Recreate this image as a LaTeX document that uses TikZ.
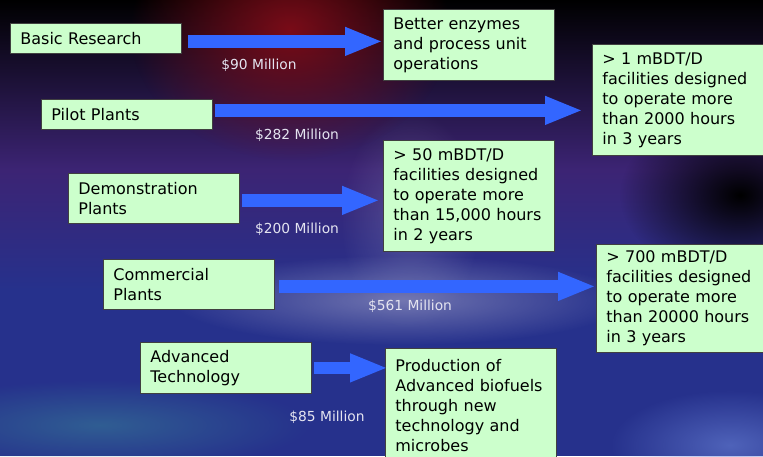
\documentclass[tikz,border=0pt]{standalone}
\usepackage{fontspec}
\setmainfont{DejaVu Sans}
\usetikzlibrary{arrows.meta,fadings}

\definecolor{boxgreen}{HTML}{CCFFCC}
\definecolor{flowblue}{HTML}{3366FF}
\definecolor{costgrey}{HTML}{E4E4F0}
\definecolor{bgpurple}{HTML}{3C2474}
\definecolor{bgblue}{HTML}{26318C}
\definecolor{bgmaroon}{HTML}{7A0C18}
\definecolor{bglilac}{HTML}{A0A0C8}
\definecolor{bgteal}{HTML}{3A8A9A}
\definecolor{bgsky}{HTML}{6A84D8}

\tikzfading[name=glow, inner color=transparent!0, outer color=transparent!100]

\tikzset{
  box/.style={draw=black!75, fill=boxgreen, line width=0.8pt, anchor=north west,
    inner xsep=10pt, inner ysep=3pt, align=left, text width=151pt,
    font=\fontsize{16pt}{20pt}\selectfont},
  flow/.style={draw=flowblue, line width=13pt, -{Triangle[width=26pt,length=38pt]}},
  cost/.style={text=costgrey, font=\fontsize{13.8pt}{16pt}\selectfont}
}

\begin{document}
\begin{tikzpicture}[x=1pt,y=-1pt]
\useasboundingbox (0,0) rectangle (763,456);
\clip (0,0) rectangle (763,456);
% background
\fill[bgblue] (0,0) rectangle (763,456);
\shade[top color=black, bottom color=bgpurple] (0,0) rectangle (763,170);
\shade[top color=bgpurple, bottom color=bgblue] (0,170) rectangle (763,290);
\fill[bgmaroon, path fading=glow] (290,30) ellipse (160 and 130);
\fill[black, path fading=glow] (740,195) ellipse (120 and 85);
\fill[bglilac, opacity=0.3, path fading=glow] (410,220) ellipse (70 and 110);
\fill[bglilac, opacity=0.6, path fading=glow] (400,300) ellipse (230 and 45);
\fill[bgteal, opacity=0.5, path fading=glow] (100,425) ellipse (210 and 45);
\fill[bgsky, opacity=0.6, path fading=glow] (730,445) ellipse (120 and 55);

% boxes
\node[box, minimum height=30pt] (basic) at (10,23) {Basic Research};
\node[box, minimum height=71pt] (better) at (383,9) {Better enzymes\\and process unit\\operations};
\node[box, minimum height=30pt] (pilot) at (41,99) {Pilot Plants};
\node[box, minimum height=111pt] (onemb) at (592,44) {> 1 mBDT/D\\facilities designed\\to operate more\\than 2000 hours\\in 3 years};
\node[box, minimum height=50pt] (demo) at (68,173) {Demonstration\\Plants};
\node[box, minimum height=111pt] (fifty) at (383,140) {> 50 mBDT/D\\facilities designed\\to operate more\\than 15,000 hours\\in 2 years};
\node[box, minimum height=50pt] (commercial) at (103,259) {Commercial\\Plants};
\node[box, minimum height=108pt, text width=147pt] (seven) at (596,244) {> 700 mBDT/D\\facilities designed\\to operate more\\than 20000 hours\\in 3 years};
\node[box, minimum height=51pt] (advanced) at (140,342) {Advanced\\Technology};
\node[box, minimum height=140pt] (biofuels) at (385,348) {Production of\\Advanced biofuels\\through new\\technology and\\microbes\rule[-26pt]{0pt}{1pt}};

% arrows
\coordinate (a1) at ([xshift=6pt,yshift=-3pt]basic.east);
\draw[flow] (a1) -- (a1 -| better.west);
\coordinate (a2) at ([xshift=2pt,yshift=4pt]pilot.east);
\draw[flow, shorten >=9pt] (a2) -- (a2 -| onemb.west);
\coordinate (a3) at ([xshift=2pt,yshift=-2pt]demo.east);
\draw[flow, shorten >=3pt] (a3) -- (a3 -| fifty.west);
\coordinate (a4) at ([xshift=4pt,yshift=-2pt]commercial.east);
\draw[flow] (a4) -- (a4 -| seven.west);
\coordinate (a5) at ([xshift=2pt]advanced.east);
\draw[flow, line width=12pt, shorten >=-3pt] (a5) -- (a5 -| biofuels.west);

% costs
\node[cost] (c90) at (259,65) {\$90 Million};
\node[cost] (c282) at (297,135) {\$282 Million};
\node[cost] (c200) at (297,229) {\$200 Million};
\node[cost] (c561) at (410,306) {\$561 Million};
\node[cost] (c85) at (327,417) {\$85 Million};
\end{tikzpicture}
\end{document}
